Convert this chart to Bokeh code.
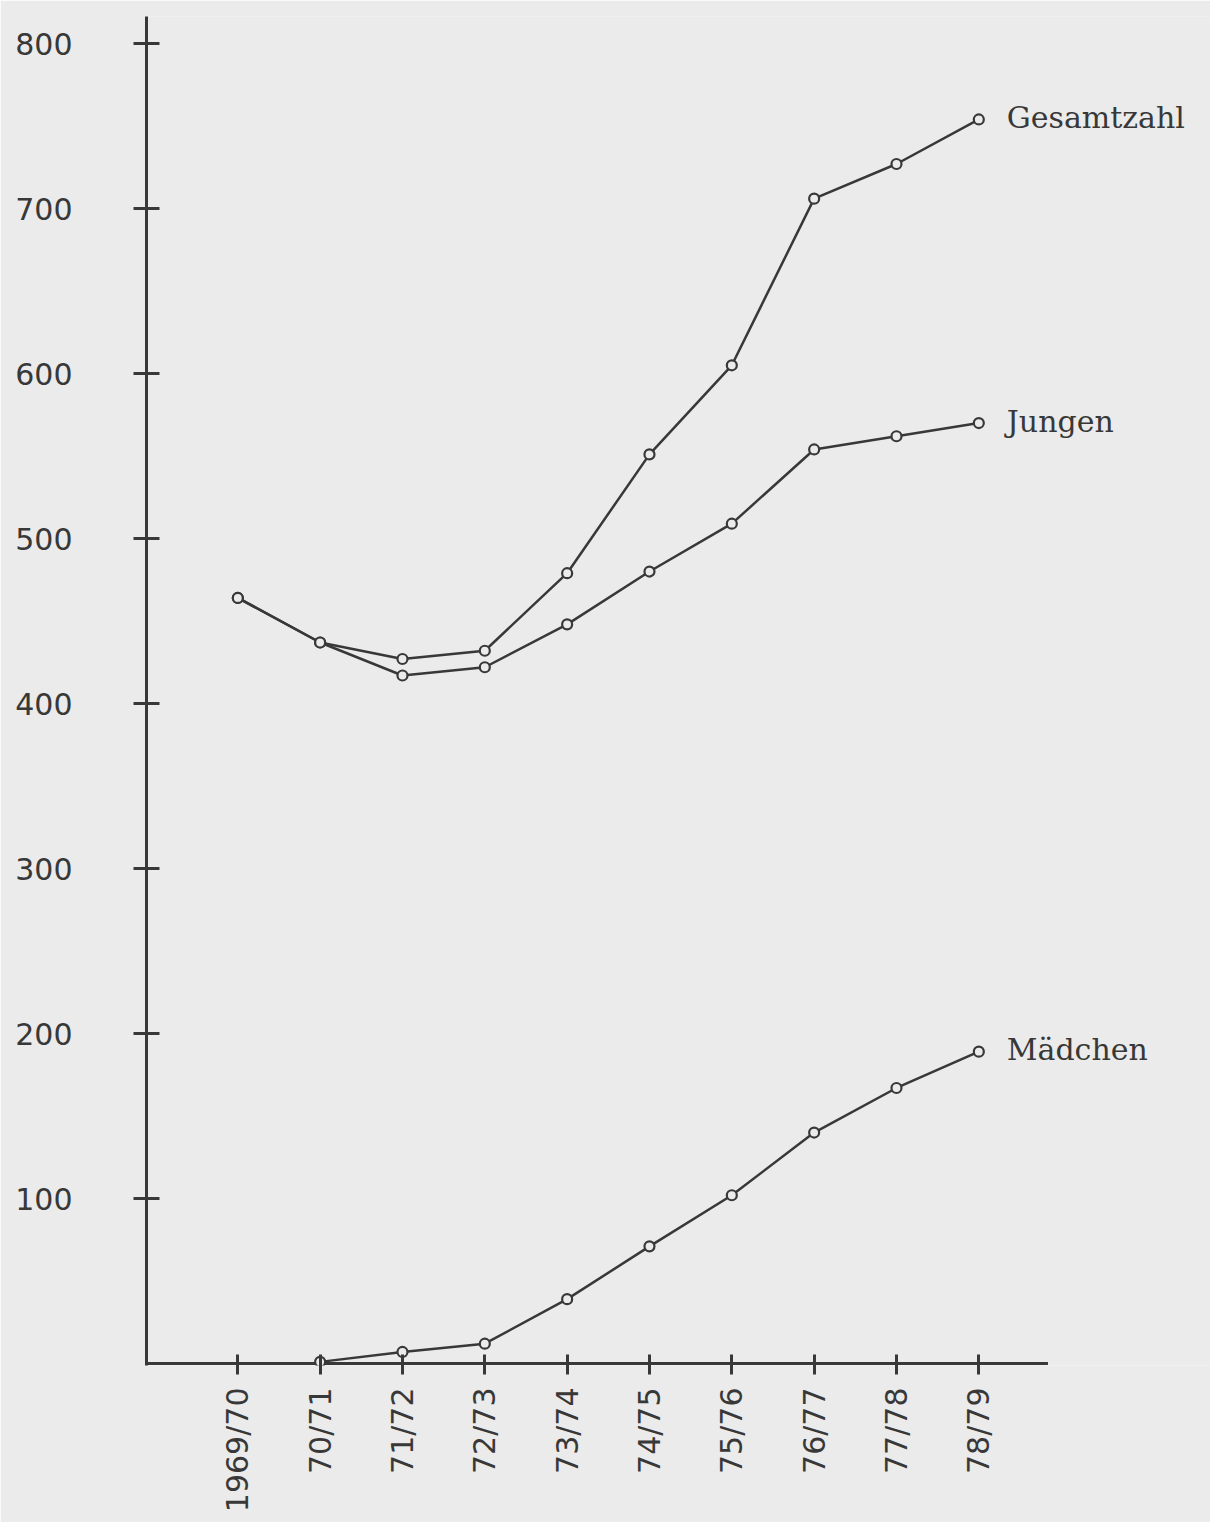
import math
import numpy as np
from bokeh.plotting import figure
from bokeh.models import Range1d, FixedTicker, ColumnDataSource, Label
from bokeh.embed import file_html
from bokeh.resources import INLINE

# ---- data ----
years = ["1969/70", "70/71", "71/72", "72/73", "73/74", "74/75", "75/76", "76/77", "77/78", "78/79"]
gesamtzahl = [464, 437, 427, 432, 479, 551, 605, 706, 727, 754]
jungen = [464, 437, 417, 422, 448, 480, 509, 554, 562, 570]
maedchen = [np.nan, 1, 7, 12, 39, 71, 102, 140, 167, 189]
y_ticks = [100, 200, 300, 400, 500, 600, 700, 800]
series_names = ["Gesamtzahl", "Jungen", "Mädchen"]

BG = "#ebebeb"
INK = "#383838"

xs = list(range(len(years)))
X_START = -1.109
X_AXIS_END = 9.84

p = figure(
    width=1210, height=1522,
    x_range=Range1d(X_START, 11.814),
    y_range=Range1d(-1.2, 816.4),
    output_backend="svg", toolbar_location=None, title=None,
    min_border_left=146, min_border_right=0, min_border_top=16, min_border_bottom=157,
)
p.background_fill_color = BG
p.border_fill_color = BG
p.outline_line_color = None
p.xgrid.visible = False
p.ygrid.visible = False

xaxis = p.xaxis[0]
xaxis.ticker = FixedTicker(ticks=xs)
xaxis.major_label_overrides = {i: y for i, y in enumerate(years)}
xaxis.major_label_orientation = math.pi / 2
xaxis.axis_line_color = None
xaxis.major_tick_in = 11
xaxis.major_tick_out = 9
xaxis.major_tick_line_width = 3
xaxis.major_tick_line_color = INK
xaxis.minor_tick_line_color = None
xaxis.major_label_standoff = 13
xaxis.major_label_text_font = "DejaVu Sans"
xaxis.major_label_text_font_size = "30px"
xaxis.major_label_text_color = INK

yaxis = p.yaxis[0]
yaxis.ticker = FixedTicker(ticks=y_ticks)
yaxis.axis_line_color = INK
yaxis.axis_line_width = 3
yaxis.major_tick_in = 13
yaxis.major_tick_out = 13
yaxis.major_tick_line_width = 3
yaxis.major_tick_line_color = INK
yaxis.minor_tick_line_color = None
yaxis.major_label_standoff = 61
yaxis.major_label_text_font = "DejaVu Sans"
yaxis.major_label_text_font_size = "30px"
yaxis.major_label_text_color = INK

# x axis line (ends just after the last category, as in the original)
p.segment(x0=[X_START], y0=[0], x1=[X_AXIS_END], y1=[0], line_color=INK, line_width=3)

# series
for vals in (gesamtzahl, jungen, maedchen):
    src = ColumnDataSource(dict(x=xs, y=vals))
    p.line("x", "y", source=src, line_color=INK, line_width=2.5)
    p.scatter("x", "y", source=src, marker="circle", size=10, line_width=2.2,
              line_color=INK, fill_color=BG)

# series labels at the last point
last = len(years) - 1
for name, vals in zip(series_names, (gesamtzahl, jungen, maedchen)):
    p.add_layout(Label(x=last, y=vals[last], x_offset=28, y_offset=2, text=name,
                       text_font="DejaVu Serif", text_font_size="30px",
                       text_color=INK, text_baseline="middle", text_align="left"))

open("out.html", "w").write(file_html(p, INLINE))
